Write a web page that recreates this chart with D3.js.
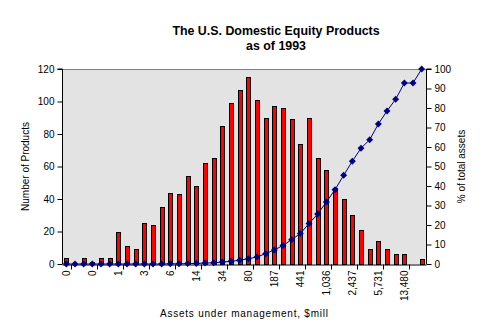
<!DOCTYPE html>
<html>
<head>
<meta charset="utf-8">
<script src="https://cdn.jsdelivr.net/npm/d3@7"></script>
<style>
  body { margin: 0; background: #fff; }
  svg { display: block; font-family: "Liberation Sans", Arial, sans-serif; }
</style>
</head>
<body>
<svg width="502" height="334"></svg>
<script>
// number of products per asset-size bin
const products = [4, 0, 4, 1, 4, 4, 20, 11, 9, 25, 24, 35, 44, 43,
    54, 48, 62, 65, 85, 99, 107, 115, 101, 90, 97, 96, 89, 74,
    90, 65, 58, 47, 40, 30, 21, 9, 14, 9, 6, 6, 0, 3];

// cumulative % of total assets
const cumulativePct = [0, 0, 0, 0, 0, 0, 0, 0, 0, 0, 0, 0, 0.1, 0.1,
    0.2, 0.3, 0.5, 0.6, 1.0, 1.4, 1.9, 2.7, 3.6, 5.3, 7.2, 9.5, 12.5, 15.6,
    20.8, 25.6, 31.8, 38.1, 45.5, 52.7, 59.4, 63.7, 71.8, 78.5, 84.5, 92.8, 92.8, 100];

// labels shown on every third bin
const tickLabels = ["0", "0", "1", "3", "6", "14", "34", "80", "187", "441",
    "1,036", "2,437", "5,731", "13,480"];

const leftTicks = [0, 20, 40, 60, 80, 100, 120];
const rightTicks = [0, 10, 20, 30, 40, 50, 60, 70, 80, 90, 100];

function createChart(){
    const svg = d3.select('svg')
    const left = 62, right = 426, top = 69, bottom = 264

    const categories = d3.range(products.length)

    const xScale = d3.scaleBand().domain(categories).range([left, right])
        .paddingInner(0.5).paddingOuter(0.25)
    const yScale = d3.scaleLinear().domain([0, 120]).range([bottom, top])
    const pctScale = d3.scaleLinear().domain([0, 100]).range([bottom, top])
    const step = xScale.step()

    // plot area
    svg.append("rect")
        .attr("x", left).attr("y", top)
        .attr("width", right - left).attr("height", bottom - top)
        .attr("fill", "#e3e3e3")
    svg.append("line")
        .attr("x1", left).attr("x2", right).attr("y1", top + 0.5).attr("y2", top + 0.5)
        .attr("stroke", "#808080")

    // bars
    svg.append("g")
        .selectAll("rect")
        .data(products)
        .enter()
        .append("rect")
        .attr("x", (d, i) => Math.round(xScale(i)) + 0.5)
        .attr("y", d => Math.round(yScale(d)) + 0.5)
        .attr("width", Math.round(xScale.bandwidth()))
        .attr("height", d => Math.round(yScale(0)) - Math.round(yScale(d)))
        .attr("fill", "#ff0000")
        .attr("stroke", "#000")
        .attr("stroke-width", 1)
        .style("display", d => d > 0 ? null : "none")

    // axes
    const yAxis = d3.axisLeft(yScale).tickValues(leftTicks).tickSize(5).tickPadding(3)
    const yAxisG = svg.append("g")
        .attr("transform", `translate(${left + 0.5}, 0)`)
        .call(yAxis)

    const rAxis = d3.axisRight(pctScale).tickValues(rightTicks).tickSize(5).tickPadding(3)
    const rAxisG = svg.append("g")
        .attr("transform", `translate(${right + 0.5}, 0)`)
        .call(rAxis)

    const xAxis = d3.axisBottom(xScale)
        .tickValues(categories.filter(i => i % 3 === 0))
        .tickFormat(i => tickLabels[i / 3])
        .tickSize(0)
    const xAxisG = svg.append("g")
        .attr("transform", `translate(0, ${bottom + 0.5})`)
        .call(xAxis)
    xAxisG.selectAll("text")
        .attr("transform", "rotate(-90)")
        .attr("x", -6)
        .attr("y", 0)
        .attr("dy", "0.35em")
        .style("text-anchor", "end")

    // tick marks between bins
    xAxisG.append("g")
        .selectAll("line")
        .data(categories.filter(i => i % 3 === 1))
        .enter()
        .append("line")
        .attr("x1", i => Math.round(xScale(i) - (step - xScale.bandwidth()) / 2) + 0.5)
        .attr("x2", i => Math.round(xScale(i) - (step - xScale.bandwidth()) / 2) + 0.5)
        .attr("y1", 0).attr("y2", 5)
        .attr("stroke", "#000")

    svg.selectAll(".domain").attr("stroke", "#000")
    yAxisG.select(".domain").attr("d", `M-5,${top}H0V${bottom}`)
    rAxisG.select(".domain").attr("d", `M5,${top}H0V${bottom}`)
    svg.selectAll(".tick text").attr("font-size", 10).attr("fill", "#000")
        .attr("font-family", '"Liberation Sans", Arial, sans-serif')

    // cumulative assets line
    const line = d3.line()
        .x((d, i) => xScale(i) + xScale.bandwidth() / 2)
        .y(d => pctScale(d))
    svg.append("path")
        .datum(cumulativePct)
        .attr("d", line)
        .attr("fill", "none")
        .attr("stroke", "#000080")
        .attr("stroke-width", 1)

    svg.append("g")
        .selectAll("path")
        .data(cumulativePct)
        .enter()
        .append("path")
        .attr("d", d3.symbol().type(d3.symbolSquare).size(24))
        .attr("transform", (d, i) =>
            `translate(${xScale(i) + xScale.bandwidth() / 2}, ${pctScale(d)}) rotate(45)`)
        .attr("fill", "#000080")

    // titles
    svg.append("text")
        .attr("x", 276).attr("y", 35)
        .attr("text-anchor", "middle")
        .attr("font-size", 12.4).attr("font-weight", "bold")
        .text("The U.S. Domestic Equity Products")
    svg.append("text")
        .attr("x", 276).attr("y", 50)
        .attr("text-anchor", "middle")
        .attr("font-size", 12.4).attr("font-weight", "bold")
        .text("as of 1993")

    svg.append("text")
        .attr("transform", `translate(29, ${(top + bottom) / 2}) rotate(-90)`)
        .attr("text-anchor", "middle")
        .attr("font-size", 10)
        .text("Number of Products")

    svg.append("text")
        .attr("transform", `translate(465, ${(top + bottom) / 2}) rotate(-90)`)
        .attr("text-anchor", "middle")
        .attr("font-size", 10)
        .text("% of total assets")

    svg.append("text")
        .attr("x", 244).attr("y", 317)
        .attr("text-anchor", "middle")
        .attr("font-size", 10)
        .attr("textLength", 168)
        .attr("lengthAdjust", "spacing")
        .text("Assets under management, $mill")
}

createChart()
</script>
</body>
</html>
